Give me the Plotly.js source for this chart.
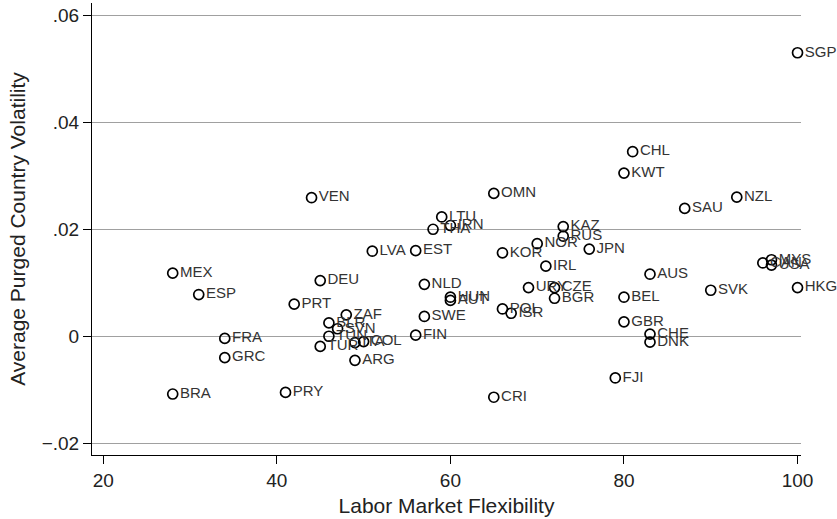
<!DOCTYPE html>
<html>
<head>
<meta charset="utf-8">
<script src="https://cdn.plot.ly/plotly-3.0.1.min.js"></script>
<style>html,body{margin:0;padding:0;background:#fff;}#chart{width:837px;height:519px;}</style>
</head>
<body>
<div id="chart"></div>
<script>
const countries = ["SGP","CHL","KWT","OMN","SAU","NZL","VEN","LTU","IRN","THA","KAZ","RUS","NOR","JPN","KOR","EST","LVA","IRL","MEX","DEU","NLD","URY","CZE","BGR","HUN","AUT","ESP","PRT","SWE","POL","ISR","FIN","AUS","BEL","GBR","CHE","DNK","SVK","HKG","CAN","MYS","USA","ZAF","BLR","SVN","TUN","TUR","ITA","COL","ARG","FRA","GRC","BRA","PRY","CRI","FJI"];
const flexibility = [100,81,80,65,87,93,44,59,60,58,73,73,70,76,66,56,51,71,28,45,57,69,72,72,60,60,31,42,57,66,67,56,83,80,80,83,83,90,100,96,97,97,48,46,47,46,45,49,50,49,34,34,28,41,65,79];
const volatility = [0.0530,0.0345,0.0305,0.0267,0.0239,0.0260,0.0259,0.0223,0.0207,0.0200,0.0205,0.0187,0.0173,0.0163,0.0156,0.0160,0.0159,0.0131,0.0118,0.0104,0.0097,0.0091,0.0091,0.0071,0.0073,0.0067,0.0078,0.0060,0.0037,0.0051,0.0043,0.0002,0.0116,0.0073,0.0027,0.0004,-0.0011,0.0086,0.0091,0.0137,0.0143,0.0133,0.0040,0.0025,0.0014,0.0000,-0.0019,-0.0012,-0.0010,-0.0045,-0.0004,-0.0040,-0.0108,-0.0105,-0.0114,-0.0078];
const yTickVals = [-0.02,0,0.02,0.04,0.06];
const yTickText = ["\u2212.02","0",".02",".04",".06"];
const xTickVals = [20,40,60,80,100];

const trace = {
  x: flexibility, y: volatility, text: countries,
  type: "scatter", mode: "markers+text", textposition: "middle right",
  cliponaxis: false,
  marker: {symbol: "circle-open", size: 10, color: "#000", line: {width: 1.7, color: "#000"}},
  textfont: {family: "Liberation Sans, Arial, sans-serif", size: 15, color: "#333"},
  hoverinfo: "none"
};
const tickFont = {family: "Liberation Sans, Arial, sans-serif", size: 19, color: "#222"};
const titleFont = {family: "Liberation Sans, Arial, sans-serif", size: 21, color: "#222"};
const layout = {
  width: 837, height: 519,
  margin: {l: 92, r: 36, t: 3, b: 64},
  paper_bgcolor: "#fff", plot_bgcolor: "#fff",
  showlegend: false, font: tickFont,
  xaxis: {
    range: [18.7, 100.4], tickvals: xTickVals, ticks: "outside", ticklen: 8, tickcolor: "#000",
    showgrid: false, zeroline: false, showline: true, linecolor: "#000", linewidth: 1,
    title: {text: "Labor Market Flexibility", font: titleFont, standoff: 8}, tickfont: tickFont
  },
  yaxis: {
    range: [-0.0222, 0.0623], tickvals: yTickVals, ticktext: yTickText, ticks: "outside", ticklen: 8, tickcolor: "#000",
    showgrid: true, gridcolor: "#a0a0a0", gridwidth: 1, zeroline: false, showline: true, linecolor: "#000", linewidth: 1,
    title: {text: "Average Purged Country Volatility", font: titleFont, standoff: 10}, tickfont: tickFont
  }
};
Plotly.newPlot("chart", [trace], layout, {displayModeBar: false, staticPlot: true});
</script>
</body>
</html>
